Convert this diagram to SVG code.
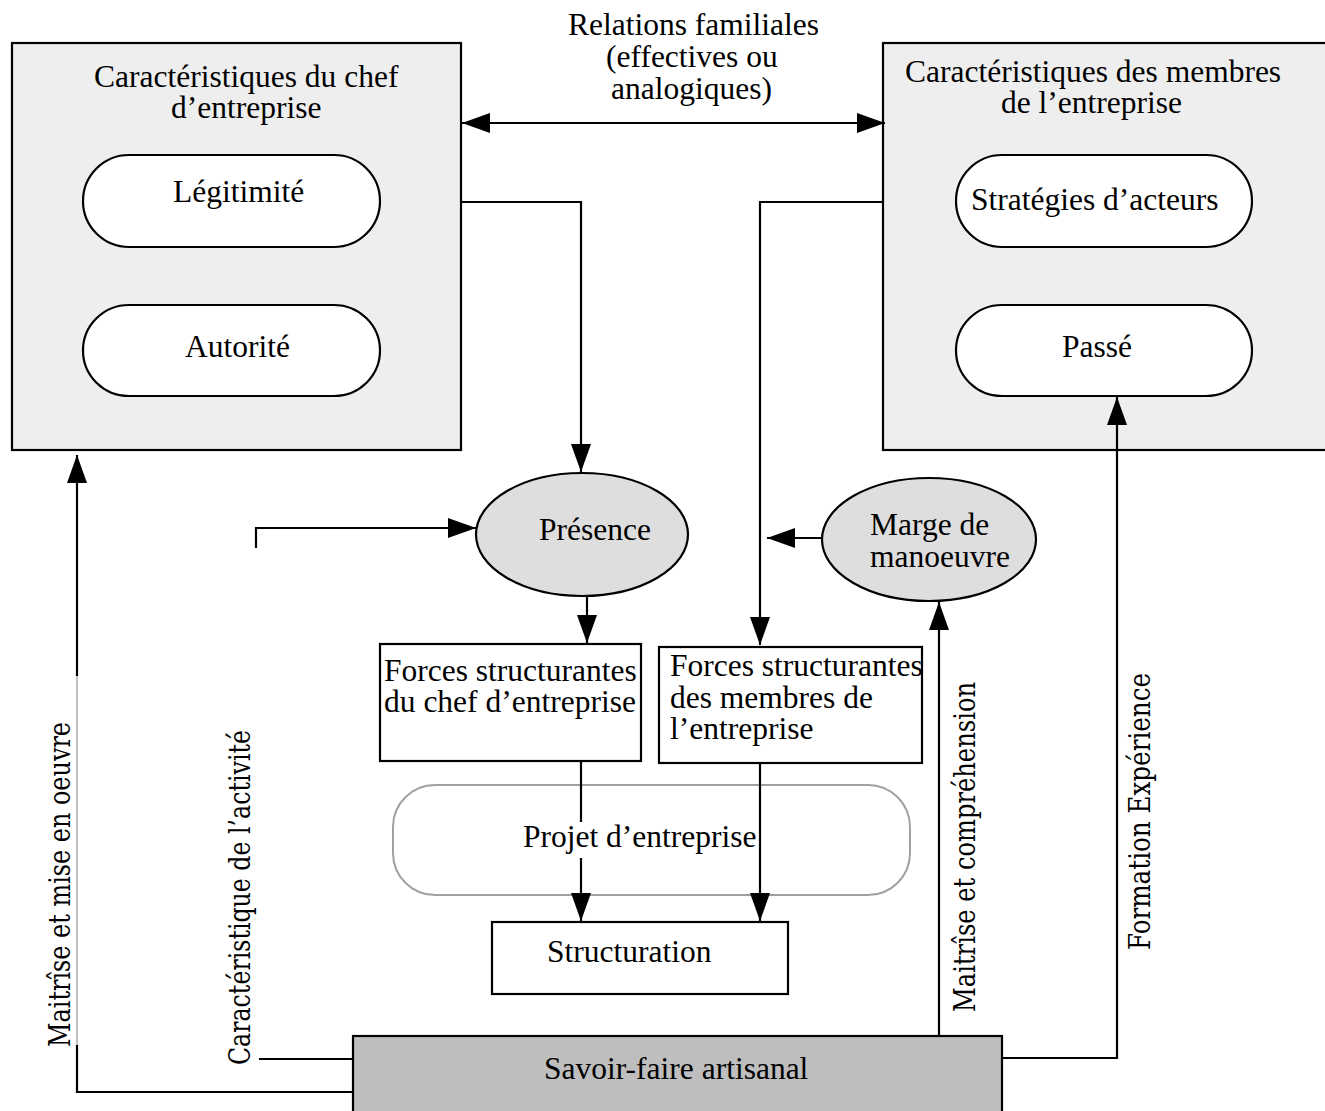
<svg xmlns="http://www.w3.org/2000/svg" width="1325" height="1111" viewBox="0 0 1325 1111">
<style>
.t{font-family:"Liberation Serif","Times New Roman",serif;font-size:31.5px;fill:#000}
.v{font-family:"DejaVu Serif","Liberation Serif",serif;font-size:29px;fill:#000}
.box{stroke:#000;stroke-width:2.2}
.pill{fill:#fff;stroke:#000;stroke-width:2.2}
.ell{fill:#dedede;stroke:#000;stroke-width:2.2}
.c{fill:none;stroke:#000;stroke-width:2.2}
.thin{fill:none;stroke:#808080;stroke-width:1}
</style>
<defs>
<marker id="ah" viewBox="0 0 28 20" refX="28" refY="10" markerWidth="28" markerHeight="20" markerUnits="userSpaceOnUse" orient="auto-start-reverse">
<path d="M0,0 L28,10 L0,20 z" fill="#000"/>
</marker>
</defs>
<rect width="1325" height="1111" fill="#fff"/>

<g id="chef">
<rect class="box" x="12" y="43" width="449" height="407" fill="#eeeeee"/>
<text class="t" x="94" y="87">Caractéristiques du chef</text>
<text class="t" x="171" y="118">d’entreprise</text>
</g>
<g id="legitimite">
<rect class="pill" x="83" y="155" width="297" height="92" rx="46"/>
<text class="t" x="173" y="202">Légitimité</text>
</g>
<g id="autorite">
<rect class="pill" x="83" y="305" width="297" height="91" rx="46"/>
<text class="t" x="185" y="357">Autorité</text>
</g>

<g id="membres">
<rect class="box" x="883" y="43" width="450" height="407" fill="#eeeeee"/>
<text class="t" x="905" y="82">Caractéristiques des membres</text>
<text class="t" x="1001" y="113">de l’entreprise</text>
</g>
<g id="strategies">
<rect class="pill" x="956" y="155" width="296" height="92" rx="46"/>
<text class="t" x="971" y="210">Stratégies d’acteurs</text>
</g>
<g id="passe">
<rect class="pill" x="956" y="305" width="296" height="91" rx="46"/>
<text class="t" x="1062" y="357">Passé</text>
</g>

<g id="relations">
<text class="t" x="568" y="35">Relations familiales</text>
<text class="t" x="606" y="67">(effectives ou</text>
<text class="t" x="611" y="99">analogiques)</text>
</g>

<g id="presence">
<ellipse class="ell" cx="582" cy="534.5" rx="106" ry="61.5"/>
<text class="t" x="539" y="540">Présence</text>
</g>
<g id="marge">
<ellipse class="ell" cx="929" cy="539.5" rx="107" ry="61.5"/>
<text class="t" x="870" y="535">Marge de</text>
<text class="t" x="870" y="567">manoeuvre</text>
</g>

<g id="forces-chef">
<rect class="box" x="380" y="644" width="261" height="117" fill="#fff"/>
<text class="t" x="384" y="681">Forces structurantes</text>
<text class="t" x="384" y="712">du chef d’entreprise</text>
</g>
<g id="forces-membres">
<rect class="box" x="659" y="647" width="263" height="116" fill="#fff"/>
<text class="t" x="670" y="676">Forces structurantes</text>
<text class="t" x="670" y="708">des membres de</text>
<text class="t" x="670" y="739">l’entreprise</text>
</g>

<g id="projet">
<rect x="393" y="785" width="517" height="110" rx="42" fill="#fff" stroke="#a0a0a0" stroke-width="2"/>
<text class="t" x="523" y="847">Projet d’entreprise</text>
</g>

<g id="structuration">
<rect class="box" x="492" y="922" width="296" height="72" fill="#fff"/>
<text class="t" x="547" y="962">Structuration</text>
</g>

<g id="savoir">
<rect class="box" x="353" y="1036" width="649" height="80" fill="#bebebe"/>
<text class="t" x="544" y="1079">Savoir-faire artisanal</text>
</g>

<g id="labels">
<text class="v" transform="translate(70,1047) rotate(-90)" textLength="325" lengthAdjust="spacingAndGlyphs">Maitrîse et mise en oeuvre</text>
<text class="v" transform="translate(250,1065) rotate(-90)" textLength="335" lengthAdjust="spacingAndGlyphs" font-size="28">Caractéristique de l’activité</text>
<text class="v" transform="translate(975,1012) rotate(-90)" textLength="330" lengthAdjust="spacingAndGlyphs">Maitrîse et compréhension</text>
<text class="v" transform="translate(1150,950) rotate(-90)" textLength="277" lengthAdjust="spacingAndGlyphs">Formation Expérience</text>
</g>

<g id="connectors">
<path class="c" d="M462,123 H885" marker-start="url(#ah)" marker-end="url(#ah)"/>
<path class="c" d="M460,202 H581 V472" marker-end="url(#ah)"/>
<path class="c" d="M883,202 H760 V645" marker-end="url(#ah)"/>
<path class="c" d="M256,548 V528 H476" marker-end="url(#ah)"/>
<path class="c" d="M587,596 V643" marker-end="url(#ah)"/>
<path class="c" d="M822,538 H767" marker-end="url(#ah)"/>
<path class="c" d="M581,761 V822"/>
<path class="c" d="M581,858 V921" marker-end="url(#ah)"/>
<path class="c" d="M760,763 V921" marker-end="url(#ah)"/>
<path class="c" d="M939,1036 V602" marker-end="url(#ah)"/>
<path class="c" d="M1002,1058 H1117 V397" marker-end="url(#ah)"/>
<path class="c" d="M353,1092 H77 V1045"/>
<path class="thin" d="M77,1045 V675"/>
<path class="c" d="M77,676 V455" marker-end="url(#ah)"/>
<path class="c" d="M259,1059 H353"/>
</g>
</svg>
